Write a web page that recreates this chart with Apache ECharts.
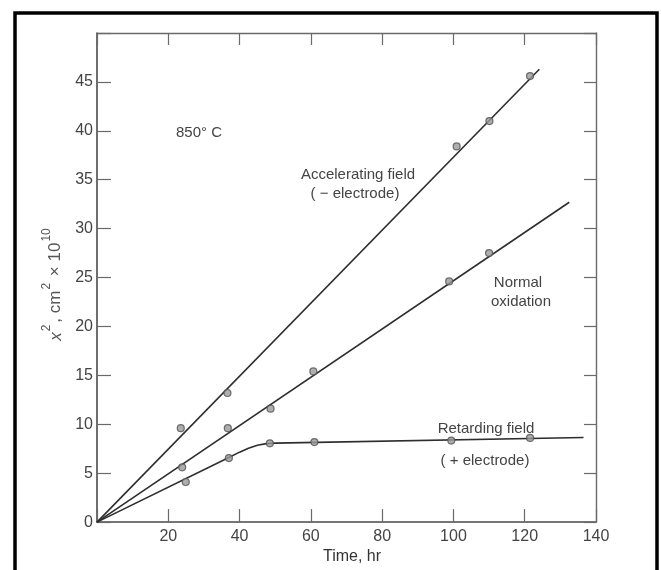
<!DOCTYPE html>
<html>
<head>
<meta charset="utf-8">
<script src="https://cdn.jsdelivr.net/npm/echarts@6/dist/echarts.min.js"></script>
<style>
html,body{margin:0;padding:0;background:#fff;}
#c{width:661px;height:570px;}
</style>
</head>
<body>
<div id="c"></div>
<script>
// ---- data (x = time in hr, y = x^2 in cm^2 x 1e10) ----
const xTicks = [0, 20, 40, 60, 80, 100, 120, 140];
const yTicks = [0, 5, 10, 15, 20, 25, 30, 35, 40, 45];

const accelPoints = [[23.5, 9.6], [36.6, 13.2], [100.9, 38.4], [110.1, 41.0], [121.5, 45.6]];
const accelLine = [[0, 0], [124.1, 46.3]];

const normalPoints = [[23.9, 5.6], [36.7, 9.6], [48.7, 11.6], [60.7, 15.4], [98.8, 24.6], [110.0, 27.5]];
const normalLine = [[0, 0], [132.5, 32.7]];

const retardPoints = [[24.9, 4.1], [37.0, 6.55], [48.5, 8.05], [61.0, 8.18], [99.4, 8.33], [121.5, 8.6]];
const retardLine = [[0, 0], [37, 6.6], [40, 7.15], [42.5, 7.55], [45, 7.85], [47.5, 8.02], [50, 8.07], [136.5, 8.65]];

const FONT = 'Liberation Sans, Arial, sans-serif';
const LINE = '#2e2e2e';

const chart = echarts.init(document.getElementById('c'), null, {renderer: 'canvas'});

function lineSeries(data) {
  return {
    type: 'line', data: data, xAxisIndex: 0, yAxisIndex: 0,
    showSymbol: false, symbol: 'none', smooth: false,
    lineStyle: {color: LINE, width: 1.6}, z: 2, silent: true
  };
}
function pointSeries(data) {
  return {
    type: 'scatter', data: data, xAxisIndex: 0, yAxisIndex: 0,
    symbol: 'circle', symbolSize: 7,
    itemStyle: {color: '#9a9a9a', borderColor: '#505050', borderWidth: 1.2},
    z: 3, silent: true
  };
}

const tickStyle = {color: '#6a6a6a', width: 1.2};
const frameLine = {show: true, onZero: false, lineStyle: {color: '#4a4a4a', width: 1.6}};

chart.setOption({
  animation: false,
  backgroundColor: '#ffffff',
  grid: {left: 97, right: 65, top: 33, bottom: 42, containLabel: false},
  xAxis: [
    {
      type: 'value', min: xTicks[0], max: xTicks[xTicks.length - 1], interval: 20,
      position: 'bottom',
      axisLine: frameLine,
      axisTick: {show: true, inside: true, length: 13, lineStyle: tickStyle},
      axisLabel: {
        color: '#444', fontSize: 16, fontFamily: FONT, margin: 6,
        formatter: v => (v === 0 ? '' : String(v))
      },
      splitLine: {show: false},
      name: 'Time, hr', nameLocation: 'middle', nameGap: 22,
      nameTextStyle: {color: '#333', fontSize: 16, fontFamily: FONT, padding: [0, 0, 0, 11]}
    },
    {
      type: 'value', min: xTicks[0], max: xTicks[xTicks.length - 1], interval: 20,
      position: 'top',
      axisLine: {show: true, onZero: false, lineStyle: {color: '#6a6a6a', width: 1.4}},
      axisTick: {show: true, inside: true, length: 12, lineStyle: tickStyle},
      axisLabel: {show: false},
      splitLine: {show: false}
    }
  ],
  yAxis: [
    {
      type: 'value', min: 0, max: 50, interval: 5,
      position: 'left',
      axisLine: frameLine,
      axisTick: {show: true, inside: true, length: 14, lineStyle: tickStyle},
      axisLabel: {
        color: '#444', fontSize: 16, fontFamily: FONT, margin: 4,
        formatter: v => (yTicks.indexOf(v) >= 0 ? String(v) : '')
      },
      splitLine: {show: false},
      name: '{it|x}{sup|2}{b|, cm}{sup|2}{b| × 10}{sup|10}',
      nameLocation: 'middle', nameGap: 25,
      nameTextStyle: {
        color: '#555', fontFamily: FONT, padding: [0, 12, 0, 0],
        rich: {
          it: {fontSize: 17, fontStyle: 'italic', fontFamily: FONT, color: '#555', lineHeight: 24, verticalAlign: 'bottom'},
          b: {fontSize: 17, fontFamily: FONT, color: '#555', lineHeight: 24, verticalAlign: 'bottom'},
          sup: {fontSize: 12, fontFamily: FONT, color: '#555', lineHeight: 24, verticalAlign: 'top', padding: [0, 2, 0, 1]}
        }
      }
    },
    {
      type: 'value', min: 0, max: 50, interval: 5,
      position: 'right',
      axisLine: {show: true, onZero: false, lineStyle: {color: '#6a6a6a', width: 1.4}},
      axisTick: {show: true, inside: true, length: 12, lineStyle: tickStyle},
      axisLabel: {show: false},
      splitLine: {show: false}
    }
  ],
  series: [
    lineSeries(accelLine),
    pointSeries(accelPoints),
    lineSeries(normalLine),
    pointSeries(normalPoints),
    lineSeries(retardLine),
    pointSeries(retardPoints)
  ],
  graphic: [
    {
      type: 'rect', left: 12.5, top: 10.5, z: 100, silent: true,
      shape: {width: 642, height: 620},
      style: {fill: 'none', stroke: '#000', lineWidth: 3.5}
    },
    {type: 'text', x: 199, y: 133, style: {text: '850° C', font: '15px ' + FONT, fill: '#444', align: 'center', verticalAlign: 'middle'}},
    {type: 'text', x: 358, y: 175, style: {text: 'Accelerating field', font: '15px ' + FONT, fill: '#444', align: 'center', verticalAlign: 'middle'}},
    {type: 'text', x: 355, y: 194, style: {text: '( − electrode)', font: '15px ' + FONT, fill: '#444', align: 'center', verticalAlign: 'middle'}},
    {type: 'text', x: 518, y: 283, style: {text: 'Normal', font: '15px ' + FONT, fill: '#444', align: 'center', verticalAlign: 'middle'}},
    {type: 'text', x: 521, y: 302, style: {text: 'oxidation', font: '15px ' + FONT, fill: '#444', align: 'center', verticalAlign: 'middle'}},
    {type: 'text', x: 486, y: 429, style: {text: 'Retarding field', font: '15px ' + FONT, fill: '#444', align: 'center', verticalAlign: 'middle'}},
    {type: 'text', x: 485, y: 461, style: {text: '( + electrode)', font: '15px ' + FONT, fill: '#444', align: 'center', verticalAlign: 'middle'}}
  ]
});
</script>
</body>
</html>
